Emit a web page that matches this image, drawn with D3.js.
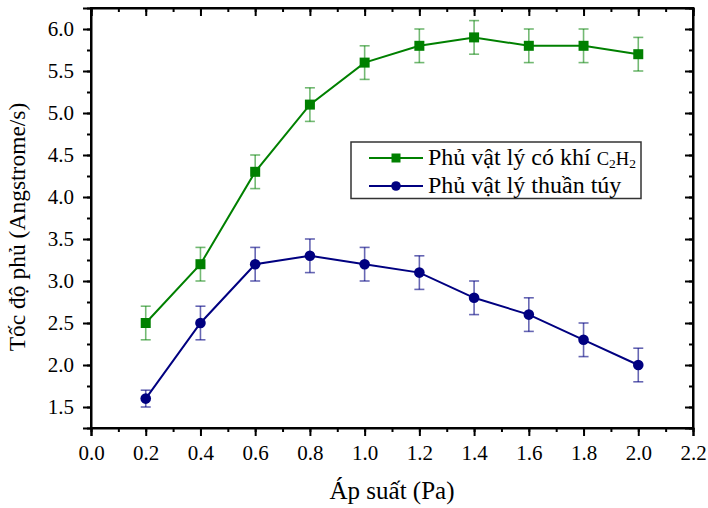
<!DOCTYPE html>
<html>
<head>
<meta charset="utf-8">
<script src="https://cdn.jsdelivr.net/npm/d3@7"></script>
<style>
  html, body { margin: 0; padding: 0; background: #fff; }
  svg { display: block; }
  text { font-family: "Liberation Serif", "Times New Roman", serif; }
</style>
</head>
<body>
<svg id="chart" width="708" height="508"></svg>
<script>
// Deposition rate versus pressure, two sputtering modes
const pressure = [0.2, 0.4, 0.6, 0.8, 1.0, 1.2, 1.4, 1.6, 1.8, 2.0];
const rateC2H2 = [2.5, 3.2, 4.3, 5.1, 5.6, 5.8, 5.9, 5.8, 5.8, 5.7];
const errC2H2  = [0.2, 0.2, 0.2, 0.2, 0.2, 0.2, 0.2, 0.2, 0.2, 0.2];
const ratePure = [1.6, 2.5, 3.2, 3.3, 3.2, 3.1, 2.8, 2.6, 2.3, 2.0];
const errPure  = [0.1, 0.2, 0.2, 0.2, 0.2, 0.2, 0.2, 0.2, 0.2, 0.2];
const xTicks = [0.0, 0.2, 0.4, 0.6, 0.8, 1.0, 1.2, 1.4, 1.6, 1.8, 2.0, 2.2];
const yTicks = [1.5, 2.0, 2.5, 3.0, 3.5, 4.0, 4.5, 5.0, 5.5, 6.0];
const seriesNames = ["Phủ vật lý có khí ", "Phủ vật lý thuần túy"];

const svg = d3.select("#chart");
const plotL = 91, plotR = 693, plotT = 8, plotB = 428;

const x = d3.scaleLinear().domain([0, 2.2]).range([plotL, plotR]);
const y = d3.scaleLinear().domain([1.25, 6.25]).range([plotB, plotT]);

const xMinor = d3.range(0, 2.2001, 0.1);
const yMinor = d3.range(1.25, 6.2501, 0.25);

// Axes: outward ticks on bottom/left, inward on top/right
const fmt = d3.format(".1f");
function styleAxis(g) {
  g.selectAll("path").attr("stroke", "#000").attr("stroke-width", 2);
  g.selectAll("line").attr("stroke", "#000").attr("stroke-width", 2);
}

// minor ticks
svg.append("g").attr("transform", `translate(0,${plotB})`)
  .call(d3.axisBottom(x).tickValues(xMinor).tickSize(4).tickFormat(""))
  .call(styleAxis).select(".domain").remove();
svg.append("g").attr("transform", `translate(0,${plotT})`)
  .call(d3.axisTop(x).tickValues(xMinor).tickSize(-4).tickFormat(""))
  .call(styleAxis).select(".domain").remove();
svg.append("g").attr("transform", `translate(${plotL},0)`)
  .call(d3.axisLeft(y).tickValues(yMinor).tickSize(4).tickFormat(""))
  .call(styleAxis).select(".domain").remove();
svg.append("g").attr("transform", `translate(${plotR},0)`)
  .call(d3.axisRight(y).tickValues(yMinor).tickSize(-4).tickFormat(""))
  .call(styleAxis).select(".domain").remove();

// major ticks
const xAxis = svg.append("g").attr("transform", `translate(0,${plotB})`)
  .call(d3.axisBottom(x).tickValues(xTicks).tickSize(8).tickPadding(9).tickFormat(fmt))
  .call(styleAxis);
xAxis.selectAll("text").attr("font-size", 21).attr("fill", "#000")
  .attr("font-family", "Liberation Serif");

svg.append("g").attr("transform", `translate(0,${plotT})`)
  .call(d3.axisTop(x).tickValues(xTicks).tickSize(-8).tickFormat(""))
  .call(styleAxis);

const yAxis = svg.append("g").attr("transform", `translate(${plotL},0)`)
  .call(d3.axisLeft(y).tickValues(yTicks).tickSize(8).tickPadding(9).tickFormat(fmt))
  .call(styleAxis);
yAxis.selectAll("text").attr("font-size", 21).attr("fill", "#000")
  .attr("font-family", "Liberation Serif");

svg.append("g").attr("transform", `translate(${plotR},0)`)
  .call(d3.axisRight(y).tickValues(yTicks).tickSize(-8).tickFormat(""))
  .call(styleAxis);

// frame
svg.append("rect").attr("x", plotL).attr("y", plotT)
  .attr("width", plotR - plotL).attr("height", plotB - plotT)
  .attr("fill", "none").attr("stroke", "#000").attr("stroke-width", 2);

// axis titles
svg.append("text").attr("x", (plotL + plotR) / 2).attr("y", 499)
  .attr("text-anchor", "middle").attr("font-size", 25).attr("fill", "#000")
  .text("Áp suất (Pa)");
svg.append("text")
  .attr("transform", `translate(25,${227}) rotate(-90)`)
  .attr("text-anchor", "middle").attr("font-size", 23.5).attr("fill", "#000")
  .text("Tốc độ phủ (Angstrome/s)");

// series
const series = [
  { vals: rateC2H2, errs: errC2H2, color: "#008000", errColor: "rgba(0,128,0,0.55)", shape: "square" },
  { vals: ratePure, errs: errPure, color: "#000080", errColor: "rgba(0,0,128,0.6)", shape: "circle" }
];

const line = d3.line().x(d => x(d[0])).y(d => y(d[1]));

series.forEach(s => {
  const pts = pressure.map((p, i) => [p, s.vals[i], s.errs[i]]);
  const g = svg.append("g");
  // error bars
  pts.forEach(d => {
    const cx = x(d[0]), y1 = y(d[1] + d[2]), y2 = y(d[1] - d[2]);
    g.append("line").attr("x1", cx).attr("x2", cx).attr("y1", y1).attr("y2", y2)
      .attr("stroke", s.errColor).attr("stroke-width", 1.6);
    [y1, y2].forEach(yy => g.append("line")
      .attr("x1", cx - 5).attr("x2", cx + 5).attr("y1", yy).attr("y2", yy)
      .attr("stroke", s.errColor).attr("stroke-width", 1.6));
  });
  g.append("path").datum(pts).attr("d", line)
    .attr("fill", "none").attr("stroke", s.color).attr("stroke-width", 2);
  pts.forEach(d => {
    if (s.shape === "square") {
      g.append("rect").attr("x", x(d[0]) - 5).attr("y", y(d[1]) - 5)
        .attr("width", 10).attr("height", 10).attr("fill", s.color);
    } else {
      g.append("circle").attr("cx", x(d[0])).attr("cy", y(d[1])).attr("r", 5.3)
        .attr("fill", s.color);
    }
  });
});

// legend
const lg = svg.append("g");
lg.append("rect").attr("x", 351).attr("y", 142).attr("width", 290).attr("height", 56.5)
  .attr("fill", "#fff").attr("stroke", "#333").attr("stroke-width", 1.5);
const rows = [158, 186];
series.forEach((s, i) => {
  const yy = rows[i];
  lg.append("line").attr("x1", 369).attr("x2", 423).attr("y1", yy).attr("y2", yy)
    .attr("stroke", s.color).attr("stroke-width", 2);
  if (s.shape === "square") {
    lg.append("rect").attr("x", 396 - 4.5).attr("y", yy - 4.5).attr("width", 9).attr("height", 9)
      .attr("fill", s.color);
  } else {
    lg.append("circle").attr("cx", 396).attr("cy", yy).attr("r", 4.8).attr("fill", s.color);
  }
  const t = lg.append("text").attr("x", 428).attr("y", yy + 7)
    .attr("font-size", 24).attr("fill", "#000").text(seriesNames[i]);
  if (i === 0) {
    t.append("tspan").attr("font-size", 18.5).text("C");
    t.append("tspan").attr("font-size", 13.5).attr("dy", 3).text("2");
    t.append("tspan").attr("font-size", 18.5).attr("dy", -3).text("H");
    t.append("tspan").attr("font-size", 13.5).attr("dy", 3).text("2");
  }
});
</script>
</body>
</html>
